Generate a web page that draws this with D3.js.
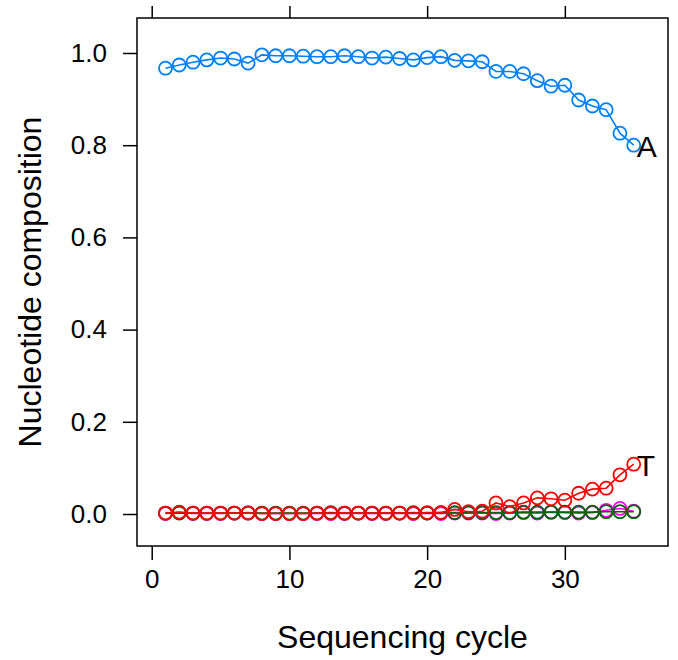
<!DOCTYPE html>
<html>
<head>
<meta charset="utf-8">
<script src="https://cdn.jsdelivr.net/npm/d3@7"></script>
<style>
  body { margin: 0; background: #fff; }
  text { font-family: "Liberation Sans", Arial, sans-serif; }
</style>
</head>
<body>
<div id="chart"></div>
<script>
const width = 678;
const height = 660;

const cycles = d3.range(1, 36);

const seriesA = [0.967, 0.974, 0.980, 0.985, 0.989, 0.987, 0.978, 0.996, 0.994, 0.994,
  0.993, 0.992, 0.992, 0.994, 0.992, 0.989, 0.991, 0.988, 0.985, 0.990,
  0.992, 0.984, 0.983, 0.981, 0.960, 0.960, 0.955, 0.940, 0.928, 0.930,
  0.898, 0.885, 0.877, 0.826, 0.800];
const seriesC = [0.001, 0.003, 0.001, 0.001, 0.001, 0.002, 0.003, 0.001, 0.001, 0.001,
  0.001, 0.001, 0.001, 0.001, 0.002, 0.001, 0.001, 0.002, 0.001, 0.002,
  0.001, 0.002, 0.002, 0.002, 0.001, 0.002, 0.003, 0.002, 0.004, 0.003,
  0.002, 0.003, 0.008, 0.012, 0.006];
const seriesG = [0.002, 0.002, 0.002, 0.002, 0.002, 0.002, 0.002, 0.002, 0.002, 0.002,
  0.002, 0.002, 0.003, 0.002, 0.002, 0.002, 0.002, 0.002, 0.003, 0.002,
  0.003, 0.003, 0.003, 0.003, 0.003, 0.003, 0.004, 0.004, 0.004, 0.004,
  0.004, 0.004, 0.005, 0.005, 0.005];
const seriesT = [0.002, 0.004, 0.002, 0.002, 0.002, 0.002, 0.002, 0.001, 0.001, 0.001,
  0.001, 0.002, 0.002, 0.002, 0.002, 0.002, 0.002, 0.002, 0.002, 0.003,
  0.003, 0.010, 0.005, 0.006, 0.024, 0.016, 0.024, 0.035, 0.033, 0.030,
  0.045, 0.054, 0.056, 0.085, 0.108];

const series = [
  {name: "A", values: seriesA, color: "#0080ff", label: true},
  {name: "C", values: seriesC, color: "#ff00ff", label: false},
  {name: "G", values: seriesG, color: "#006400", label: false},
  {name: "T", values: seriesT, color: "#ff0000", label: true}
];

const xTicks = [0, 10, 20, 30];
const yTicks = [0, 0.2, 0.4, 0.6, 0.8, 1.0];

const panel = {left: 137, right: 668, top: 18, bottom: 546};

const x = d3.scaleLinear()
  .domain([-1.068, 37.49])
  .range([panel.left, panel.right]);

const y = d3.scaleLinear()
  .domain([-0.0694, 1.0759])
  .range([panel.bottom, panel.top]);

const svg = d3.select("#chart")
  .append("svg")
  .attr("width", width)
  .attr("height", height);

// bottom axis
svg.append("g")
  .attr("transform", `translate(0,${panel.bottom})`)
  .call(d3.axisBottom(x).tickValues(xTicks).tickFormat(d3.format("d")).tickSize(14).tickPadding(10))
  .call(g => g.select(".domain").remove())
  .call(g => g.selectAll(".tick line").attr("stroke", "#000").attr("stroke-width", 1.5))
  .call(g => g.selectAll(".tick text").attr("font-size", 26).attr("fill", "#000"));

// top ticks, no labels
svg.append("g")
  .attr("transform", `translate(0,${panel.top})`)
  .call(d3.axisTop(x).tickValues(xTicks).tickFormat("").tickSize(12))
  .call(g => g.select(".domain").remove())
  .call(g => g.selectAll(".tick line").attr("stroke", "#000").attr("stroke-width", 1.5));

// left axis
svg.append("g")
  .attr("transform", `translate(${panel.left},0)`)
  .call(d3.axisLeft(y).tickValues(yTicks).tickFormat(d3.format(".1f")).tickSize(14).tickPadding(16))
  .call(g => g.select(".domain").remove())
  .call(g => g.selectAll(".tick line").attr("stroke", "#000").attr("stroke-width", 1.5))
  .call(g => g.selectAll(".tick text").attr("font-size", 26).attr("fill", "#000"));

// panel box
svg.append("rect")
  .attr("x", panel.left)
  .attr("y", panel.top)
  .attr("width", panel.right - panel.left)
  .attr("height", panel.bottom - panel.top)
  .attr("fill", "none")
  .attr("stroke", "#000")
  .attr("stroke-width", 1.5);

const line = d3.line()
  .x((d, i) => x(cycles[i]))
  .y(d => y(d));

series.forEach(s => {
  const g = svg.append("g").attr("class", `series-${s.name}`);

  g.append("path")
    .attr("d", line(s.values))
    .attr("fill", "none")
    .attr("stroke", s.color)
    .attr("stroke-width", 1.6);

  g.selectAll("circle")
    .data(s.values)
    .join("circle")
    .attr("cx", (d, i) => x(cycles[i]))
    .attr("cy", d => y(d))
    .attr("r", 6.5)
    .attr("fill", "none")
    .attr("stroke", s.color)
    .attr("stroke-width", 1.8);

  if (s.label) {
    const last = s.values.length - 1;
    g.append("text")
      .attr("x", x(cycles[last]) + 3)
      .attr("y", y(s.values[last]) + 1)
      .attr("dominant-baseline", "central")
      .attr("font-size", 30)
      .attr("fill", "#000")
      .text(s.name);
  }
});

// axis titles
svg.append("text")
  .attr("x", (panel.left + panel.right) / 2)
  .attr("y", 648)
  .attr("text-anchor", "middle")
  .attr("font-size", 32)
  .attr("fill", "#000")
  .text("Sequencing cycle");

svg.append("text")
  .attr("transform", `translate(41,${(panel.top + panel.bottom) / 2}) rotate(-90)`)
  .attr("text-anchor", "middle")
  .attr("font-size", 32)
  .attr("fill", "#000")
  .text("Nucleotide composition");
</script>
</body>
</html>
